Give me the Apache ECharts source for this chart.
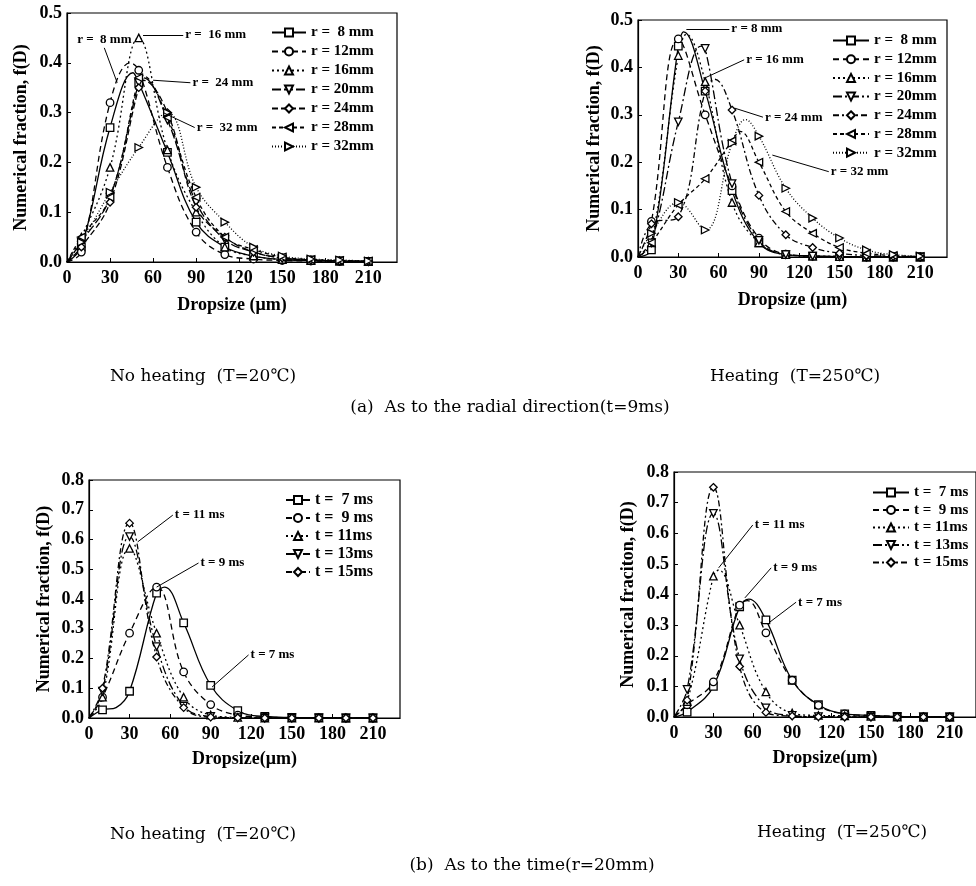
<!DOCTYPE html>
<html>
<head>
<meta charset="utf-8">
<title>Dropsize distribution</title>
<script src="https://cdn.jsdelivr.net/npm/echarts@6/dist/echarts.min.js"></script>
<style>
  html, body { margin: 0; padding: 0; background: #fff; }
  #chart { width: 976px; height: 886px; }
</style>
</head>
<body>
<div id="chart"></div>
<script>
// 측정 drop size (um) - marker positions
const dropX = [10, 30, 50, 70, 90, 110, 130, 150, 170, 190, 210];

// (a) radial direction, t = 9ms
const rNames = ['r =  8 mm', 'r = 12mm', 'r = 16mm', 'r = 20mm', 'r = 24mm', 'r = 28mm', 'r = 32mm'];

// no heating (T=20C)
const coldR8  = [0.03, 0.27, 0.36, 0.22, 0.08, 0.03, 0.012, 0.005, 0.003, 0.002, 0.001];
const coldR12 = [0.02, 0.32, 0.385, 0.19, 0.06, 0.015, 0.006, 0.003, 0.002, 0.001, 0.001];
const coldR16 = [0.05, 0.19, 0.45, 0.225, 0.10, 0.03, 0.012, 0.005, 0.003, 0.002, 0.001];
const coldR20 = [0.04, 0.13, 0.36, 0.285, 0.12, 0.045, 0.02, 0.008, 0.004, 0.002, 0.001];
const coldR24 = [0.03, 0.12, 0.35, 0.30, 0.11, 0.05, 0.02, 0.008, 0.004, 0.002, 0.001];
const coldR28 = [0.05, 0.13, 0.37, 0.29, 0.13, 0.05, 0.025, 0.01, 0.005, 0.003, 0.002];
const coldR32 = [0.04, 0.14, 0.23, 0.30, 0.15, 0.08, 0.03, 0.012, 0.006, 0.004, 0.002];
// fitted curve peaks that fall between markers
const coldRPeaks = [[[46, 0.38]], [[44, 0.40]], [], [[53, 0.37]], [[53, 0.365]], [[52, 0.375]], []];

// heating (T=250C)
const hotR8  = [0.015, 0.445, 0.35, 0.14, 0.03, 0.005, 0.002, 0.001, 0, 0, 0];
const hotR12 = [0.075, 0.46, 0.30, 0.15, 0.04, 0.006, 0.002, 0.001, 0, 0, 0];
const hotR16 = [0.03, 0.425, 0.37, 0.115, 0.03, 0.005, 0.002, 0.001, 0, 0, 0];
const hotR20 = [0.03, 0.285, 0.44, 0.155, 0.035, 0.005, 0.002, 0.001, 0, 0, 0];
const hotR24 = [0.07, 0.085, 0.35, 0.31, 0.13, 0.047, 0.02, 0.008, 0.003, 0.001, 0];
const hotR28 = [0.03, 0.11, 0.165, 0.245, 0.20, 0.096, 0.05, 0.02, 0.008, 0.003, 0.001];
const hotR32 = [0.05, 0.115, 0.057, 0.24, 0.255, 0.145, 0.082, 0.04, 0.015, 0.005, 0.002];
const hotRPeaks = [[[34, 0.475]], [], [[36, 0.47]], [[47, 0.445]], [[57, 0.375]], [[76, 0.265]], [[80, 0.29]]];

// (b) time, r = 20mm
const tNames = ['t =  7 ms', 't =  9 ms', 't = 11ms', 't = 13ms', 't = 15ms'];

const coldT7  = [0.027, 0.09, 0.42, 0.32, 0.11, 0.025, 0.005, 0.002, 0.001, 0, 0];
const coldT9  = [0.07, 0.285, 0.44, 0.155, 0.045, 0.01, 0.003, 0.001, 0, 0, 0];
const coldT11 = [0.07, 0.57, 0.285, 0.07, 0.01, 0.002, 0, 0, 0, 0, 0];
const coldT13 = [0.09, 0.61, 0.24, 0.04, 0.005, 0.001, 0, 0, 0, 0, 0];
const coldT15 = [0.10, 0.655, 0.205, 0.035, 0.003, 0.001, 0, 0, 0, 0, 0];
const coldTPeaks = [[[20, 0.035], [56, 0.44]], [], [], [], []];

const hotT7  = [0.016, 0.10, 0.36, 0.317, 0.12, 0.04, 0.01, 0.005, 0.002, 0, 0];
const hotT9  = [0.04, 0.115, 0.365, 0.275, 0.12, 0.038, 0.01, 0.005, 0.002, 0, 0];
const hotT11 = [0.05, 0.46, 0.30, 0.082, 0.013, 0.005, 0.004, 0.002, 0, 0, 0];
const hotT13 = [0.09, 0.665, 0.19, 0.03, 0.005, 0.001, 0, 0, 0, 0, 0];
const hotT15 = [0.055, 0.75, 0.165, 0.015, 0.003, 0.001, 0, 0, 0, 0, 0];
const hotTPeaks = [[[57, 0.385]], [[56, 0.38]], [[34, 0.48]], [], []];

// leader-line notes, data coords: from = point on curve, to = text side
const coldRNotes = [
  { text: 'r =  8 mm', from: [35, 0.36], to: [26, 0.43], pos: 'top' },
  { text: 'r =  16 mm', from: [53, 0.456], to: [81, 0.456] },
  { text: 'r =  24 mm', from: [60, 0.365], to: [86, 0.36] },
  { text: 'r =  32 mm', from: [67, 0.30], to: [89, 0.27] }
];
const hotRNotes = [
  { text: 'r = 8 mm', from: [36, 0.481], to: [68, 0.481] },
  { text: 'r = 16 mm', from: [50, 0.378], to: [79, 0.416] },
  { text: 'r = 24 mm', from: [72, 0.314], to: [93, 0.295] },
  { text: 'r = 32 mm', from: [100, 0.215], to: [142, 0.18] }
];
const coldTNotes = [
  { text: 't = 11 ms', from: [36, 0.592], to: [62, 0.682] },
  { text: 't = 9 ms', from: [50, 0.44], to: [81, 0.521] },
  { text: 't = 7 ms', from: [91, 0.104], to: [118, 0.212] }
];
const hotTNotes = [
  { text: 't = 11 ms', from: [34, 0.487], to: [60, 0.627] },
  { text: 't = 9 ms', from: [54, 0.389], to: [74, 0.487] },
  { text: 't = 7 ms', from: [73, 0.31], to: [93, 0.375] }
];

// 공통 스타일
const FONT = "'Liberation Serif', 'Times New Roman', serif";
const SYM = {
  square: 'rect',
  circle: 'circle',
  up: 'triangle',
  down: 'path://M0,0L10,0L5,9Z',
  diamond: 'diamond',
  left: 'path://M9,0L9,10L0,5Z',
  right: 'path://M0,0L0,10L9,5Z'
};
const symR = [SYM.square, SYM.circle, SYM.up, SYM.down, SYM.diamond, SYM.left, SYM.right];
const symT = [SYM.square, SYM.circle, SYM.up, SYM.down, SYM.diamond];
const dashColdR = ['solid', [6, 4], [2, 3], [9, 3], [6, 3], [4, 3], [1, 2]];
const dashHotR = ['solid', [6, 4], [2, 3], [9, 3, 2, 3], [6, 3, 2, 3], [4, 3], [1, 2]];
const dashT = ['solid', [6, 4], [2, 3], [9, 3, 2, 3], [6, 3, 2, 3]];

const panels = [
  {
    key: 'a1', grid: { left: 67, top: 13, width: 330, height: 249 }, yMax: 0.5,
    names: rNames, values: [coldR8, coldR12, coldR16, coldR20, coldR24, coldR28, coldR32],
    peaks: coldRPeaks, dash: dashColdR, sym: symR, notes: coldRNotes,
    yName: 'Numerical fraction, f(D)', yGap: 37, xName: 'Dropsize (μm)', xGap: 34,
    legend: { left: 271, top: 25, itemWidth: 34, itemGap: 4, fontSize: 15 }
  },
  {
    key: 'a2', grid: { left: 638, top: 20, width: 309, height: 237 }, yMax: 0.5,
    names: rNames, values: [hotR8, hotR12, hotR16, hotR20, hotR24, hotR28, hotR32],
    peaks: hotRPeaks, dash: dashHotR, sym: symR, notes: hotRNotes,
    yName: 'Numerical fraction, f(D)', yGap: 35, xName: 'Dropsize (μm)', xGap: 34,
    legend: { left: 832, top: 33, itemWidth: 36, itemGap: 3.7, fontSize: 15 }
  },
  {
    key: 'b1', grid: { left: 89, top: 480, width: 311, height: 238 }, yMax: 0.8,
    names: tNames, values: [coldT7, coldT9, coldT11, coldT13, coldT15],
    peaks: coldTPeaks, dash: dashT, sym: symT, notes: coldTNotes,
    yName: 'Numerical fraction, f(D)', yGap: 36, xName: 'Dropsize(μm)', xGap: 32,
    legend: { left: 285, top: 492, itemWidth: 24, itemGap: 2, fontSize: 16 }
  },
  {
    key: 'b2', grid: { left: 674, top: 472, width: 310, height: 245 }, yMax: 0.8,
    names: tNames, values: [hotT7, hotT9, hotT11, hotT13, hotT15],
    peaks: hotTPeaks, dash: dashT, sym: symT, notes: hotTNotes,
    yName: 'Numerical fraciton, f(D)', yGap: 37, xName: 'Dropsize(μm)', xGap: 32,
    legend: { left: 872, top: 485, itemWidth: 36, itemGap: 2.5, fontSize: 15 }
  }
];

function curveData(vals, peaks) {
  const pts = [{ value: [0, 0], symbol: 'none' }];
  dropX.forEach((x, i) => pts.push({ value: [x, vals[i]] }));
  peaks.forEach(p => pts.push({ value: p, symbol: 'none' }));
  return pts.sort((a, b) => a.value[0] - b.value[0]);
}

const boldText = { fontFamily: FONT, fontWeight: 'bold', color: '#000' };

const option = {
  animation: false,
  backgroundColor: '#fff',
  grid: [], xAxis: [], yAxis: [], legend: [], series: [],
  graphic: []
};

panels.forEach((p, pi) => {
  option.grid.push(Object.assign({ show: true, borderColor: '#000', borderWidth: 1.2, containLabel: false }, p.grid));
  option.xAxis.push({
    gridIndex: pi, type: 'value', min: 0, max: 230, interval: 30,
    name: p.xName, nameLocation: 'middle', nameGap: p.xGap,
    nameTextStyle: Object.assign({ fontSize: 18 }, boldText),
    axisLine: { lineStyle: { color: '#000', width: 1.2 } },
    axisTick: { inside: true, length: 4, lineStyle: { color: '#000' } },
    axisLabel: Object.assign({ fontSize: 18, margin: 7, showMaxLabel: false }, boldText),
    splitLine: { show: false }
  });
  option.yAxis.push({
    gridIndex: pi, type: 'value', min: 0, max: p.yMax, interval: 0.1,
    name: p.yName, nameLocation: 'middle', nameGap: p.yGap, nameRotate: 90,
    nameTextStyle: Object.assign({ fontSize: 18 }, boldText),
    axisLine: { lineStyle: { color: '#000', width: 1.2 } },
    axisTick: { inside: true, length: 4, lineStyle: { color: '#000' } },
    axisLabel: Object.assign({ fontSize: 18, margin: 5, formatter: v => v.toFixed(1) }, boldText),
    splitLine: { show: false }
  });
  option.legend.push({
    orient: 'vertical', left: p.legend.left, top: p.legend.top, padding: 0,
    itemWidth: p.legend.itemWidth, itemHeight: 10, itemGap: p.legend.itemGap,
    selectedMode: false,
    data: p.names.map(n => p.key + '|' + n),
    formatter: n => n.split('|')[1],
    textStyle: Object.assign({ fontSize: p.legend.fontSize, padding: [0, 0, 0, 0] }, boldText)
  });
  p.names.forEach((n, si) => {
    const s = {
      name: p.key + '|' + n,
      type: 'line', xAxisIndex: pi, yAxisIndex: pi,
      data: curveData(p.values[si], p.peaks[si]),
      smooth: 0.4,
      symbol: p.sym[si], symbolSize: 7.5,
      itemStyle: { color: '#fff', borderColor: '#000', borderWidth: 1.3 },
      lineStyle: { color: '#000', width: 1.3, type: p.dash[si] },
      emphasis: { disabled: true },
      z: 3
    };
    if (si === 0) {
      s.markLine = {
        silent: true, symbol: ['none', 'none'], animation: false,
        lineStyle: { color: '#000', width: 1, type: 'solid' },
        label: { show: false },
        data: p.notes.map(nt => [{ coord: nt.from }, { coord: nt.to }])
      };
      s.markPoint = {
        silent: true, symbol: 'circle', symbolSize: 0, animation: false,
        data: p.notes.map(nt => ({
          coord: nt.to,
          label: Object.assign({
            show: true, position: nt.pos || 'right', distance: 2,
            formatter: nt.text, fontSize: 13
          }, boldText)
        }))
      };
    }
    option.series.push(s);
  });
});

// 하단 캡션
const captions = [
  { text: 'No heating  (T=20℃)', x: 203, y: 377 },
  { text: 'Heating  (T=250℃)', x: 795, y: 377 },
  { text: '(a)  As to the radial direction(t=9ms)', x: 510, y: 408 },
  { text: 'No heating  (T=20℃)', x: 203, y: 835 },
  { text: 'Heating  (T=250℃)', x: 842, y: 833 },
  { text: '(b)  As to the time(r=20mm)', x: 532, y: 866 }
];
captions.forEach(c => {
  option.graphic.push({
    type: 'text', x: c.x, y: c.y, silent: true,
    style: {
      text: c.text, fill: '#000', font: "17px 'DejaVu Serif', serif",
      align: 'center', verticalAlign: 'middle', textAlign: 'center', textVerticalAlign: 'middle'
    }
  });
});

const chart = echarts.init(document.getElementById('chart'), null, { renderer: 'canvas' });
chart.setOption(option);
</script>
</body>
</html>
